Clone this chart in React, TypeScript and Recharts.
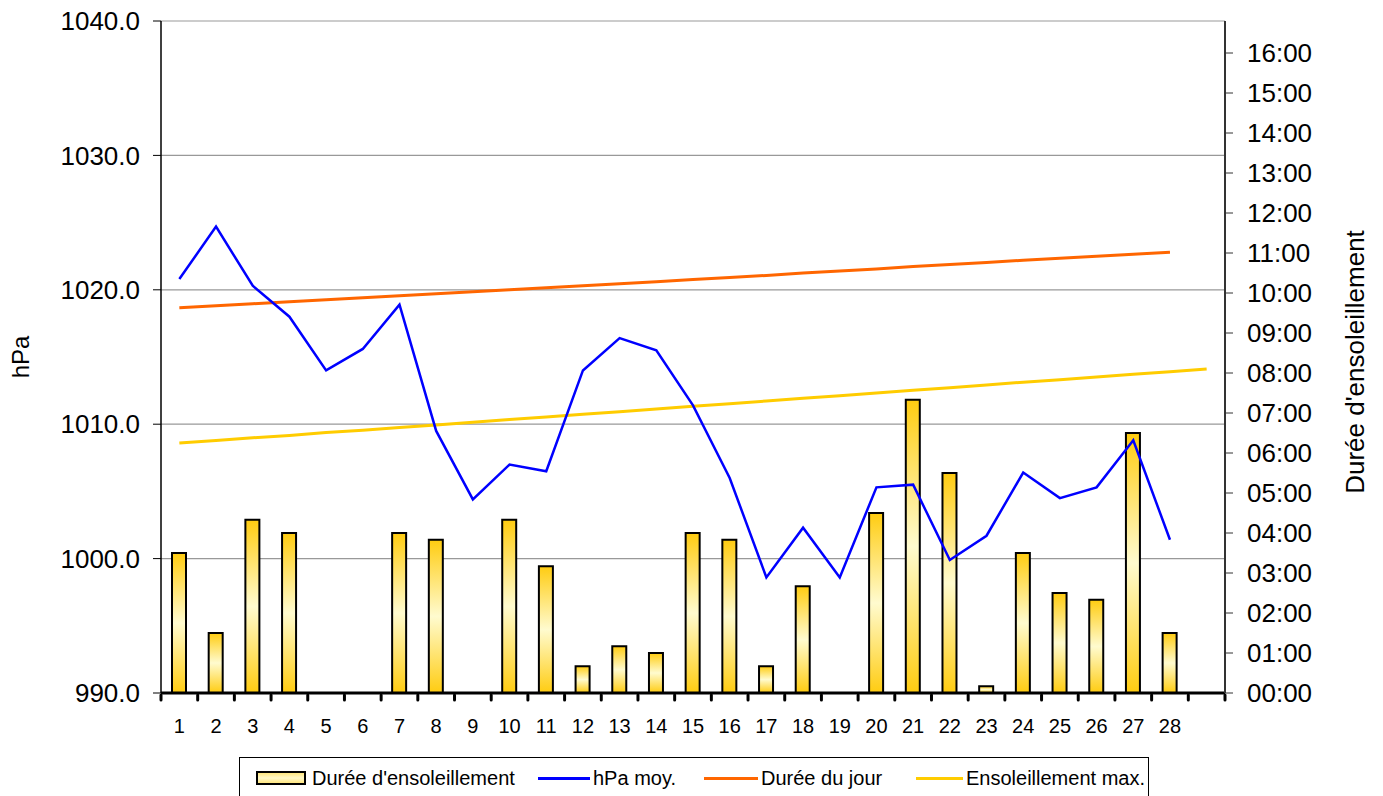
import { ComposedChart, Bar, Line, XAxis, YAxis, CartesianGrid, Legend } from 'recharts';

// jours du mois (29e case vide comme dans le classeur)
const days = ['1', '2', '3', '4', '5', '6', '7', '8', '9', '10', '11', '12', '13', '14', '15', '16', '17', '18', '19', '20', '21', '22', '23', '24', '25', '26', '27', '28', ''];

// pression moyenne (hPa)
const pressure = [1020.8, 1024.7, 1020.3, 1018.0, 1014.0, 1015.6, 1018.9, 1009.5, 1004.4, 1007.0, 1006.5, 1014.0, 1016.4, 1015.5, 1011.4, 1006.0, 998.6, 1002.3, 998.6, 1005.3, 1005.5, 999.9, 1001.7, 1006.4, 1004.5, 1005.3, 1008.8, 1001.4];

// durée d'ensoleillement (heures)
const sunshine = [3.5, 1.5, 4.33, 4.0, 0, 0, 4.0, 3.83, 0, 4.33, 3.17, 0.67, 1.17, 1.0, 4.0, 3.83, 0.67, 2.67, 0, 4.5, 7.33, 5.5, 0.17, 3.5, 2.5, 2.33, 6.5, 1.5];

// durée du jour (heures)
const dayLength = [9.63, 9.68, 9.73, 9.78, 9.83, 9.88, 9.93, 9.98, 10.03, 10.08, 10.13, 10.18, 10.23, 10.28, 10.34, 10.39, 10.44, 10.5, 10.55, 10.6, 10.66, 10.71, 10.76, 10.82, 10.87, 10.92, 10.97, 11.02];

// ensoleillement max (heures)
const maxSunshine = [6.25, 6.31, 6.38, 6.44, 6.51, 6.57, 6.64, 6.7, 6.77, 6.84, 6.9, 6.97, 7.03, 7.1, 7.17, 7.23, 7.3, 7.37, 7.43, 7.5, 7.57, 7.63, 7.7, 7.77, 7.83, 7.9, 7.97, 8.03, 8.1];

const hpaTicks = [990, 1000, 1010, 1020, 1030, 1040];
const hourTicks = [0, 1, 2, 3, 4, 5, 6, 7, 8, 9, 10, 11, 12, 13, 14, 15, 16];

const data = days.map((day, i) => ({
  day,
  sun: i < sunshine.length ? sunshine[i] : null,
  hpa: i < pressure.length ? pressure[i] : null,
  jour: i < dayLength.length ? dayLength[i] : null,
  max: maxSunshine[i],
}));

const FONT = '"Liberation Sans", Arial, sans-serif';
const PLOT_LEFT = 161;
const PLOT_RIGHT = 1225;
const BAND = (PLOT_RIGHT - PLOT_LEFT) / days.length;

const fmtHour = (v: number) => `${String(v).padStart(2, '0')}:00`;

const DayTick = (props: any) => {
  const { x, payload, index } = props;
  return (
    <g>
      <text x={x} y={733} textAnchor="middle" fontSize={20} fontFamily={FONT} fill="#000">
        {payload.value}
      </text>
      <line x1={x - BAND / 2} x2={x - BAND / 2} y1={695} y2={700} stroke="#000" strokeWidth={3} strokeLinecap="round" />
      {index === days.length - 1 && (
        <line x1={x + BAND / 2} x2={x + BAND / 2} y1={695} y2={700} stroke="#000" strokeWidth={3} strokeLinecap="round" />
      )}
    </g>
  );
};

const legendItems = [
  { kind: 'bar', label: "Durée d'ensoleillement", color: '#000', swatch: 16, width: 50, text: 72 },
  { kind: 'line', label: 'hPa moy.', color: '#0000FF', swatch: 298, width: 52, text: 353 },
  { kind: 'line', label: 'Durée du jour', color: '#FF6600', swatch: 464, width: 54, text: 521 },
  { kind: 'line', label: 'Ensoleillement max.', color: '#FFCC00', swatch: 676, width: 47, text: 726 },
];

const ChartLegend = () => (
  <div
    style={{
      position: 'relative',
      width: 910,
      height: 44,
      border: '1px solid #000',
      boxSizing: 'border-box',
      background: '#fff',
      fontFamily: FONT,
      fontSize: 20,
      color: '#000',
    }}
  >
    {legendItems.map((item) => (
      <div key={item.label}>
        {item.kind === 'bar' ? (
          <div
            style={{
              position: 'absolute',
              left: item.swatch,
              top: 13,
              width: item.width,
              height: 14,
              border: '2px solid #000',
              boxSizing: 'border-box',
              background: 'linear-gradient(#FFE680, #FFF8C8, #FFE680)',
            }}
          />
        ) : (
          <div
            style={{ position: 'absolute', left: item.swatch, top: 19, width: item.width, height: 3, background: item.color }}
          />
        )}
        <span style={{ position: 'absolute', left: item.text, top: 9, lineHeight: '22px', whiteSpace: 'nowrap' }}>
          {item.label}
        </span>
      </div>
    ))}
  </div>
);

export default function App() {
  return (
    <div style={{ position: 'absolute', left: 0, top: 0, background: '#fff' }}>
      <ComposedChart width={1383} height={796} data={data} margin={{ top: 21, right: 0, bottom: 73, left: 0 }}>
        <defs>
          <linearGradient id="sunFill" x1="0" y1="0" x2="0" y2="1">
            <stop offset="0%" stopColor="#FFCC11" />
            <stop offset="50%" stopColor="#FFFBCF" />
            <stop offset="100%" stopColor="#FFCC11" />
          </linearGradient>
        </defs>
        <CartesianGrid yAxisId="left" vertical={false} stroke="#999" strokeWidth={1.2} />
        <XAxis
          dataKey="day"
          height={30}
          interval={0}
          tickLine={false}
          axisLine={{ stroke: '#000', strokeWidth: 3 }}
          tick={<DayTick />}
        />
        <YAxis
          yAxisId="left"
          width={161}
          domain={[990, 1040]}
          ticks={hpaTicks}
          tickFormatter={(v: number) => v.toFixed(1)}
          tickSize={8}
          tickMargin={13}
          axisLine={{ stroke: '#000', strokeWidth: 1.5 }}
          tickLine={{ stroke: '#000' }}
          tick={{ fontSize: 26, fontFamily: FONT, fill: '#000' }}
          label={{
            content: () => (
              <text
                x={20}
                y={357}
                transform="rotate(-90 20 357)"
                textAnchor="middle"
                dominantBaseline="central"
                fontSize={24}
                fontFamily={FONT}
                fill="#000"
              >
                hPa
              </text>
            ),
          }}
        />
        <YAxis
          yAxisId="right"
          orientation="right"
          width={158}
          domain={[0, 16.8]}
          ticks={hourTicks}
          tickFormatter={fmtHour}
          tickSize={8}
          tickMargin={14}
          axisLine={{ stroke: '#333', strokeWidth: 2 }}
          tickLine={{ stroke: '#333' }}
          tick={{ fontSize: 26, fontFamily: FONT, fill: '#000' }}
          label={{
            content: () => (
              <text
                x={1355}
                y={362}
                transform="rotate(-90 1355 362)"
                textAnchor="middle"
                dominantBaseline="central"
                fontSize={26}
                fontFamily={FONT}
                fill="#000"
              >
                Durée d'ensoleillement
              </text>
            ),
          }}
        />
        <Bar
          yAxisId="right"
          dataKey="sun"
          name="Durée d'ensoleillement"
          barSize={14}
          fill="url(#sunFill)"
          stroke="#000"
          strokeWidth={2}
          isAnimationActive={false}
        />
        <Line yAxisId="right" dataKey="jour" name="Durée du jour" stroke="#FF6600" strokeWidth={3} dot={false} isAnimationActive={false} />
        <Line yAxisId="right" dataKey="max" name="Ensoleillement max." stroke="#FFCC00" strokeWidth={3} dot={false} isAnimationActive={false} />
        <Line yAxisId="left" dataKey="hpa" name="hPa moy." stroke="#0000FF" strokeWidth={2.5} dot={false} isAnimationActive={false} />
        <Legend
          layout="horizontal"
          verticalAlign="middle"
          align="center"
          content={() => <ChartLegend />}
          wrapperStyle={{ left: 239, top: 757, width: 910, height: 44 }}
        />
      </ComposedChart>
    </div>
  );
}
